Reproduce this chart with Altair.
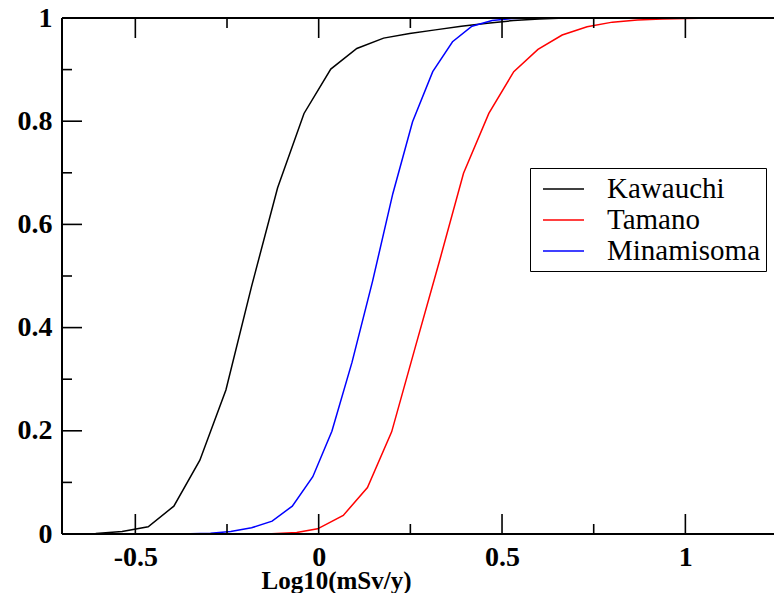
import altair as alt
import pandas as pd

series_names = ["Kawauchi", "Tamano", "Minamisoma"]
series_colors = ["#000000", "#ff0000", "#0000ff"]

kawauchi_x = [-0.679, -0.608, -0.536, -0.465, -0.395, -0.324, -0.253, -0.183, -0.112, -0.040,
              0.033, 0.104, 0.177, 0.248, 0.318, 0.389, 0.460, 0.531, 0.601, 0.672]
kawauchi_y = [0.0, 0.001, 0.005, 0.014, 0.054, 0.143, 0.279, 0.48, 0.671, 0.815,
              0.901, 0.941, 0.961, 0.970, 0.977, 0.984, 0.990, 0.995, 0.998, 1.0]

tamano_x = [-0.195, -0.128, -0.060, -0.003, 0.067, 0.133, 0.199, 0.265, 0.331, 0.395,
            0.464, 0.532, 0.598, 0.664, 0.732, 0.801, 0.869, 0.937, 1.003, 1.071]
tamano_y = [0.0, 0.0005, 0.003, 0.010, 0.036, 0.090, 0.198, 0.366, 0.533, 0.699,
            0.815, 0.896, 0.939, 0.967, 0.983, 0.992, 0.996, 0.998, 0.999, 1.0]

minamisoma_x = [-0.407, -0.350, -0.295, -0.240, -0.183, -0.127, -0.072, -0.016, 0.036, 0.091,
                0.147, 0.202, 0.256, 0.311, 0.365, 0.418, 0.473, 0.527, 0.582]
minamisoma_y = [0.0, 0.0005, 0.0015, 0.005, 0.012, 0.025, 0.054, 0.111, 0.199, 0.333,
                0.49, 0.659, 0.799, 0.896, 0.954, 0.984, 0.995, 0.999, 1.0]

# axis frame bounds (the right part of the frame lies beyond the visible window)
x_frame = [-0.7, 1.3]
x_visible = [-0.7, 1.2417]
y_frame = [0, 1]
x_major = [-0.5, 0, 0.5, 1]
x_minor = [-0.25, 0.25, 0.75, 1.25]
y_major = [0, 0.2, 0.4, 0.6, 0.8, 1]
y_minor = [0.1, 0.3, 0.5, 0.7, 0.9]

rows = []
for name, xs, ys in [("Kawauchi", kawauchi_x, kawauchi_y),
                     ("Tamano", tamano_x, tamano_y),
                     ("Minamisoma", minamisoma_x, minamisoma_y)]:
    for xv, yv in zip(xs, ys):
        rows.append({"series": name, "x": xv, "y": yv})
df = pd.DataFrame(rows)

FONT = "Liberation Serif"
xscale = alt.Scale(domain=x_visible, nice=False, zero=False)
yscale = alt.Scale(domain=y_frame, nice=False, zero=False)

x_axis = alt.Axis(
    values=x_major, ticks=False, domain=False, grid=False, format="~g",
    labelFont=FONT, labelFontWeight="bold", labelFontSize=28, labelColor="black",
    labelPadding=9, labelFlush=False, labelOverlap=False,
    labelExpr="replace(datum.label, '\u2212', '-')",
    title="Log10(mSv/y)", titleFont=FONT, titleFontSize=25, titleFontWeight="bold",
    titleColor="black", titleX=274, titleY=54, titleAlign="center",
    titleBaseline="alphabetic")
y_axis = alt.Axis(
    values=y_major, ticks=False, domain=False, grid=False, format="~g",
    labelFont=FONT, labelFontWeight="bold", labelFontSize=28, labelColor="black",
    labelPadding=10, labelFlush=False, labelOverlap=False, title=None)

lines = alt.Chart(df).mark_line(strokeWidth=1.5, clip=False).encode(
    x=alt.X("x:Q", scale=xscale, axis=x_axis),
    y=alt.Y("y:Q", scale=yscale, axis=y_axis),
    color=alt.Color("series:N", scale=alt.Scale(domain=series_names, range=series_colors),
                    legend=alt.Legend(orient="none", legendX=468, legendY=150, title=None,
                                      direction="vertical",
                                      symbolType="M-0.533,0H2.2", symbolSize=900,
                                      symbolStrokeWidth=1.5, labelFont=FONT,
                                      labelFontSize=29, labelColor="black", labelOffset=40,
                                      padding=5, strokeColor="black", fillColor="white",
                                      rowPadding=0, labelLimit=0)),
    order=alt.Order("x:Q"),
)


def xticks(vals, side, length):
    d = pd.DataFrame({"v": vals})
    yv = y_frame[0] if side == "bottom" else y_frame[1]
    off = -length if side == "bottom" else length
    return alt.Chart(d).mark_rule(color="black", strokeWidth=1.6, y2Offset=off).encode(
        x=alt.X("v:Q", scale=xscale, axis=x_axis),
        y=alt.YDatum(yv, type="quantitative", scale=yscale, axis=y_axis),
        y2=alt.Y2Datum(yv),
    )


def yticks(vals, side, length):
    d = pd.DataFrame({"v": vals})
    xv = x_frame[0] if side == "left" else x_frame[1]
    off = length if side == "left" else -length
    return alt.Chart(d).mark_rule(color="black", strokeWidth=1.6, x2Offset=off).encode(
        y=alt.Y("v:Q", scale=yscale, axis=y_axis),
        x=alt.XDatum(xv, type="quantitative", scale=xscale, axis=x_axis),
        x2=alt.X2Datum(xv),
    )


frame_h = alt.Chart(pd.DataFrame({"v": y_frame})).mark_rule(color="black", strokeWidth=2).encode(
    y=alt.Y("v:Q", scale=yscale, axis=y_axis),
    x=alt.XDatum(x_frame[0], type="quantitative", scale=xscale, axis=x_axis),
    x2=alt.X2Datum(x_frame[1]),
)
frame_v = alt.Chart(pd.DataFrame({"v": x_frame})).mark_rule(color="black", strokeWidth=2).encode(
    x=alt.X("v:Q", scale=xscale, axis=x_axis),
    y=alt.YDatum(y_frame[0], type="quantitative", scale=yscale, axis=y_axis),
    y2=alt.Y2Datum(y_frame[1]),
)

chart = alt.layer(
    lines,
    xticks(x_major, "bottom", 20), xticks(x_minor, "bottom", 10),
    xticks(x_major, "top", 20), xticks(x_minor, "top", 10),
    yticks(y_major, "left", 20), yticks(y_minor, "left", 10),
    yticks(y_major, "right", 20), yticks(y_minor, "right", 10),
    frame_h, frame_v,
).properties(
    width=712, height=516,
    autosize=alt.AutoSizeParams(type="none"),
    padding={"left": 54, "top": 10, "right": 0, "bottom": 59},
    background="white",
).configure_view(stroke=None)

chart.save("out.html", embed_options={"renderer": "svg", "actions": False})
